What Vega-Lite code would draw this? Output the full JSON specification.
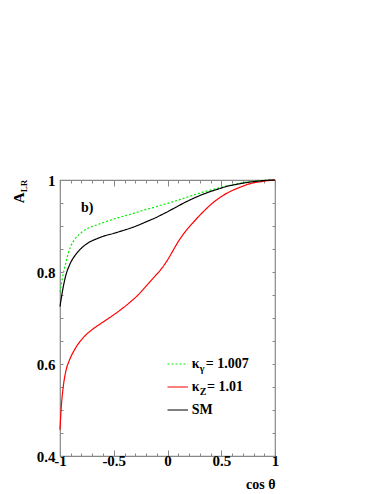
{
  "$schema": "https://vega.github.io/schema/vega-lite/v6.json",
  "autosize": {"type": "none"},
  "padding": {"left": 60, "top": 180, "right": 107, "bottom": 38},
  "width": 215,
  "height": 276,
  "background": "white",
  "config": {
    "view": {"stroke": "#888888", "strokeWidth": 1.2},
    "axis": {"domain": false, "grid": false, "tickColor": "#888888", "tickWidth": 1, "labelFlush": false,
      "labelFont": "Liberation Serif", "labelFontWeight": "bold", "labelFontSize": 15, "labelColor": "black",
      "titleFont": "Liberation Serif", "titleFontWeight": "bold", "titleFontSize": 14, "titleColor": "black"}
  },
  "datasets": {
    "curves": [
      {"x": -1, "y": 0.756, "s": "kg"}, {"x": -0.975, "y": 0.79, "s": "kg"}, {"x": -0.95, "y": 0.816, "s": "kg"},
      {"x": -0.92, "y": 0.843, "s": "kg"}, {"x": -0.9, "y": 0.856, "s": "kg"}, {"x": -0.86, "y": 0.872, "s": "kg"},
      {"x": -0.8, "y": 0.886, "s": "kg"}, {"x": -0.74, "y": 0.895, "s": "kg"}, {"x": -0.65, "y": 0.903, "s": "kg"},
      {"x": -0.58, "y": 0.909, "s": "kg"}, {"x": -0.5, "y": 0.915, "s": "kg"}, {"x": -0.43, "y": 0.92, "s": "kg"},
      {"x": -0.35, "y": 0.925, "s": "kg"}, {"x": -0.27, "y": 0.931, "s": "kg"}, {"x": -0.2, "y": 0.936, "s": "kg"},
      {"x": -0.12, "y": 0.941, "s": "kg"}, {"x": -0.05, "y": 0.946, "s": "kg"}, {"x": 0, "y": 0.949, "s": "kg"},
      {"x": 0.08, "y": 0.955, "s": "kg"}, {"x": 0.16, "y": 0.961, "s": "kg"}, {"x": 0.24, "y": 0.967, "s": "kg"},
      {"x": 0.32, "y": 0.973, "s": "kg"}, {"x": 0.4, "y": 0.978, "s": "kg"}, {"x": 0.48, "y": 0.983, "s": "kg"},
      {"x": 0.55, "y": 0.987, "s": "kg"}, {"x": 0.63, "y": 0.991, "s": "kg"}, {"x": 0.7, "y": 0.994, "s": "kg"},
      {"x": 0.78, "y": 0.997, "s": "kg"}, {"x": 0.86, "y": 0.9985, "s": "kg"}, {"x": 0.93, "y": 0.9995, "s": "kg"},
      {"x": 1, "y": 1, "s": "kg"},
      {"x": -1, "y": 0.457, "s": "kz"}, {"x": -0.99, "y": 0.5, "s": "kz"}, {"x": -0.97, "y": 0.55, "s": "kz"},
      {"x": -0.945, "y": 0.585, "s": "kz"}, {"x": -0.913, "y": 0.608, "s": "kz"}, {"x": -0.867, "y": 0.63, "s": "kz"},
      {"x": -0.82, "y": 0.647, "s": "kz"}, {"x": -0.76, "y": 0.663, "s": "kz"}, {"x": -0.7, "y": 0.675, "s": "kz"},
      {"x": -0.62, "y": 0.688, "s": "kz"}, {"x": -0.55, "y": 0.699, "s": "kz"}, {"x": -0.5, "y": 0.707, "s": "kz"},
      {"x": -0.43, "y": 0.719, "s": "kz"}, {"x": -0.35, "y": 0.734, "s": "kz"}, {"x": -0.27, "y": 0.751, "s": "kz"},
      {"x": -0.2, "y": 0.769, "s": "kz"}, {"x": -0.12, "y": 0.79, "s": "kz"}, {"x": -0.05, "y": 0.809, "s": "kz"},
      {"x": 0, "y": 0.826, "s": "kz"}, {"x": 0.05, "y": 0.846, "s": "kz"}, {"x": 0.1, "y": 0.866, "s": "kz"},
      {"x": 0.16, "y": 0.886, "s": "kz"}, {"x": 0.24, "y": 0.908, "s": "kz"}, {"x": 0.32, "y": 0.928, "s": "kz"},
      {"x": 0.4, "y": 0.946, "s": "kz"}, {"x": 0.47, "y": 0.959, "s": "kz"}, {"x": 0.55, "y": 0.971, "s": "kz"},
      {"x": 0.63, "y": 0.98, "s": "kz"}, {"x": 0.705, "y": 0.987, "s": "kz"}, {"x": 0.78, "y": 0.993, "s": "kz"},
      {"x": 0.86, "y": 0.996, "s": "kz"}, {"x": 0.93, "y": 0.9985, "s": "kz"}, {"x": 1, "y": 1, "s": "kz"},
      {"x": -1, "y": 0.725, "s": "sm"}, {"x": -0.975, "y": 0.761, "s": "sm"}, {"x": -0.95, "y": 0.789, "s": "sm"},
      {"x": -0.91, "y": 0.816, "s": "sm"}, {"x": -0.86, "y": 0.836, "s": "sm"}, {"x": -0.8, "y": 0.852, "s": "sm"},
      {"x": -0.74, "y": 0.863, "s": "sm"}, {"x": -0.65, "y": 0.873, "s": "sm"}, {"x": -0.58, "y": 0.879, "s": "sm"},
      {"x": -0.5, "y": 0.884, "s": "sm"}, {"x": -0.43, "y": 0.889, "s": "sm"}, {"x": -0.35, "y": 0.895, "s": "sm"},
      {"x": -0.27, "y": 0.902, "s": "sm"}, {"x": -0.2, "y": 0.909, "s": "sm"}, {"x": -0.12, "y": 0.917, "s": "sm"},
      {"x": -0.05, "y": 0.925, "s": "sm"}, {"x": 0, "y": 0.931, "s": "sm"}, {"x": 0.08, "y": 0.941, "s": "sm"},
      {"x": 0.16, "y": 0.951, "s": "sm"}, {"x": 0.24, "y": 0.96, "s": "sm"}, {"x": 0.32, "y": 0.968, "s": "sm"},
      {"x": 0.4, "y": 0.975, "s": "sm"}, {"x": 0.48, "y": 0.981, "s": "sm"}, {"x": 0.55, "y": 0.986, "s": "sm"},
      {"x": 0.63, "y": 0.99, "s": "sm"}, {"x": 0.7, "y": 0.993, "s": "sm"}, {"x": 0.78, "y": 0.996, "s": "sm"},
      {"x": 0.86, "y": 0.998, "s": "sm"}, {"x": 0.93, "y": 0.9995, "s": "sm"}, {"x": 1, "y": 1, "s": "sm"}
    ],
    "legendLines": [
      {"x": 0, "x2": 0.19, "y": 0.6, "s": "kg"},
      {"x": 0, "x2": 0.19, "y": 0.55, "s": "kz"},
      {"x": 0, "x2": 0.19, "y": 0.5, "s": "sm"}
    ],
    "mainText": [
      {"x": 0.225, "y": 0.6, "t": "κ"}, {"x": 0.355, "y": 0.6, "t": "= 1.007"},
      {"x": 0.225, "y": 0.55, "t": "κ"}, {"x": 0.367, "y": 0.55, "t": "= 1.01"},
      {"x": 0.225, "y": 0.5, "t": "SM"},
      {"x": -0.805, "y": 0.939, "t": "b)"}
    ],
    "subText": [
      {"x": 0.3, "y": 0.6, "t": "γ"}, {"x": 0.3, "y": 0.55, "t": "Z"}
    ],
    "yTitle": [{"x": -1.38, "y": 0.961, "t": "A"}],
    "yTitleSub": [{"x": -1.335, "y": 0.987, "t": "LR"}]
  },
  "layer": [
    {
      "data": {"name": "curves"},
      "mark": {"type": "line", "strokeWidth": 1.2, "interpolate": "monotone"},
      "encoding": {
        "x": {"field": "x", "type": "quantitative", "scale": {"domain": [-1, 1], "nice": false},
          "axis": {"orient": "bottom", "title": "cos θ", "titleAnchor": "end", "titleAlign": "right", "titlePadding": 6,
            "values": [-1, -0.9, -0.8, -0.7, -0.6, -0.5, -0.4, -0.3, -0.2, -0.1, 0, 0.1, 0.2, 0.3, 0.4, 0.5, 0.6, 0.7, 0.8, 0.9, 1],
            "tickSize": {"condition": {"test": "abs(datum.value*2 - round(datum.value*2)) < 0.001", "value": -6}, "value": -3},
            "labelPadding": 3, "labelOverlap": false,
            "labelExpr": "abs(datum.value*2 - round(datum.value*2)) < 0.001 ? '' + datum.value : ''"}},
        "y": {"field": "y", "type": "quantitative", "scale": {"domain": [0.4, 1], "nice": false, "zero": false},
          "axis": {"orient": "left", "title": null,
            "values": [0.4, 0.45, 0.5, 0.55, 0.6, 0.65, 0.7, 0.75, 0.8, 0.85, 0.9, 0.95, 1],
            "tickSize": -3, "labelPadding": 8, "labelOverlap": false,
            "labelExpr": "abs(datum.value*5 - round(datum.value*5)) < 0.001 ? '' + datum.value : ''"}},
        "color": {"field": "s", "type": "nominal", "legend": null,
          "scale": {"domain": ["kg", "kz", "sm"], "range": ["#00ee00", "#ff0000", "#000000"]}},
        "strokeDash": {"field": "s", "type": "nominal", "legend": null,
          "scale": {"domain": ["kg", "kz", "sm"], "range": [[2, 2], [1, 0], [1, 0]]}},
        "detail": {"field": "s"}
      }
    },
    {
      "data": {"name": "legendLines"},
      "mark": {"type": "rule", "strokeWidth": 1.2},
      "encoding": {
        "x": {"field": "x", "type": "quantitative",
          "axis": {"orient": "top", "title": null, "labels": false,
            "values": [-1, -0.9, -0.8, -0.7, -0.6, -0.5, -0.4, -0.3, -0.2, -0.1, 0, 0.1, 0.2, 0.3, 0.4, 0.5, 0.6, 0.7, 0.8, 0.9, 1],
            "tickSize": {"condition": {"test": "abs(datum.value*2 - round(datum.value*2)) < 0.001", "value": -6}, "value": -3}}},
        "x2": {"field": "x2"},
        "y": {"field": "y", "type": "quantitative",
          "axis": {"orient": "right", "title": null, "labels": false,
            "values": [0.4, 0.45, 0.5, 0.55, 0.6, 0.65, 0.7, 0.75, 0.8, 0.85, 0.9, 0.95, 1],
            "tickSize": -3}},
        "color": {"field": "s", "type": "nominal", "legend": null},
        "strokeDash": {"field": "s", "type": "nominal", "legend": null}
      }
    },
    {
      "data": {"name": "mainText"},
      "mark": {"type": "text", "font": "Liberation Serif", "fontWeight": "bold", "fontSize": 14, "align": "left", "baseline": "middle", "color": "black"},
      "encoding": {
        "x": {"field": "x", "type": "quantitative", "axis": null},
        "y": {"field": "y", "type": "quantitative", "axis": null},
        "text": {"field": "t"}
      }
    },
    {
      "data": {"name": "subText"},
      "mark": {"type": "text", "font": "Liberation Serif", "fontWeight": "bold", "fontSize": 10, "align": "left", "baseline": "middle", "dy": 5, "color": "black"},
      "encoding": {
        "x": {"field": "x", "type": "quantitative", "axis": null},
        "y": {"field": "y", "type": "quantitative", "axis": null},
        "text": {"field": "t"}
      }
    },
    {
      "data": {"name": "yTitle"},
      "mark": {"type": "text", "font": "Liberation Serif", "fontWeight": "bold", "fontSize": 15, "align": "center", "baseline": "middle", "angle": 270, "color": "black"},
      "encoding": {
        "x": {"field": "x", "type": "quantitative", "axis": null},
        "y": {"field": "y", "type": "quantitative", "axis": null},
        "text": {"field": "t"}
      }
    },
    {
      "data": {"name": "yTitleSub"},
      "mark": {"type": "text", "font": "Liberation Serif", "fontWeight": "bold", "fontSize": 9, "align": "center", "baseline": "middle", "angle": 270, "color": "black"},
      "encoding": {
        "x": {"field": "x", "type": "quantitative", "axis": null},
        "y": {"field": "y", "type": "quantitative", "axis": null},
        "text": {"field": "t"}
      }
    }
  ],
  "resolve": {"axis": {"x": "independent", "y": "independent"}}
}
